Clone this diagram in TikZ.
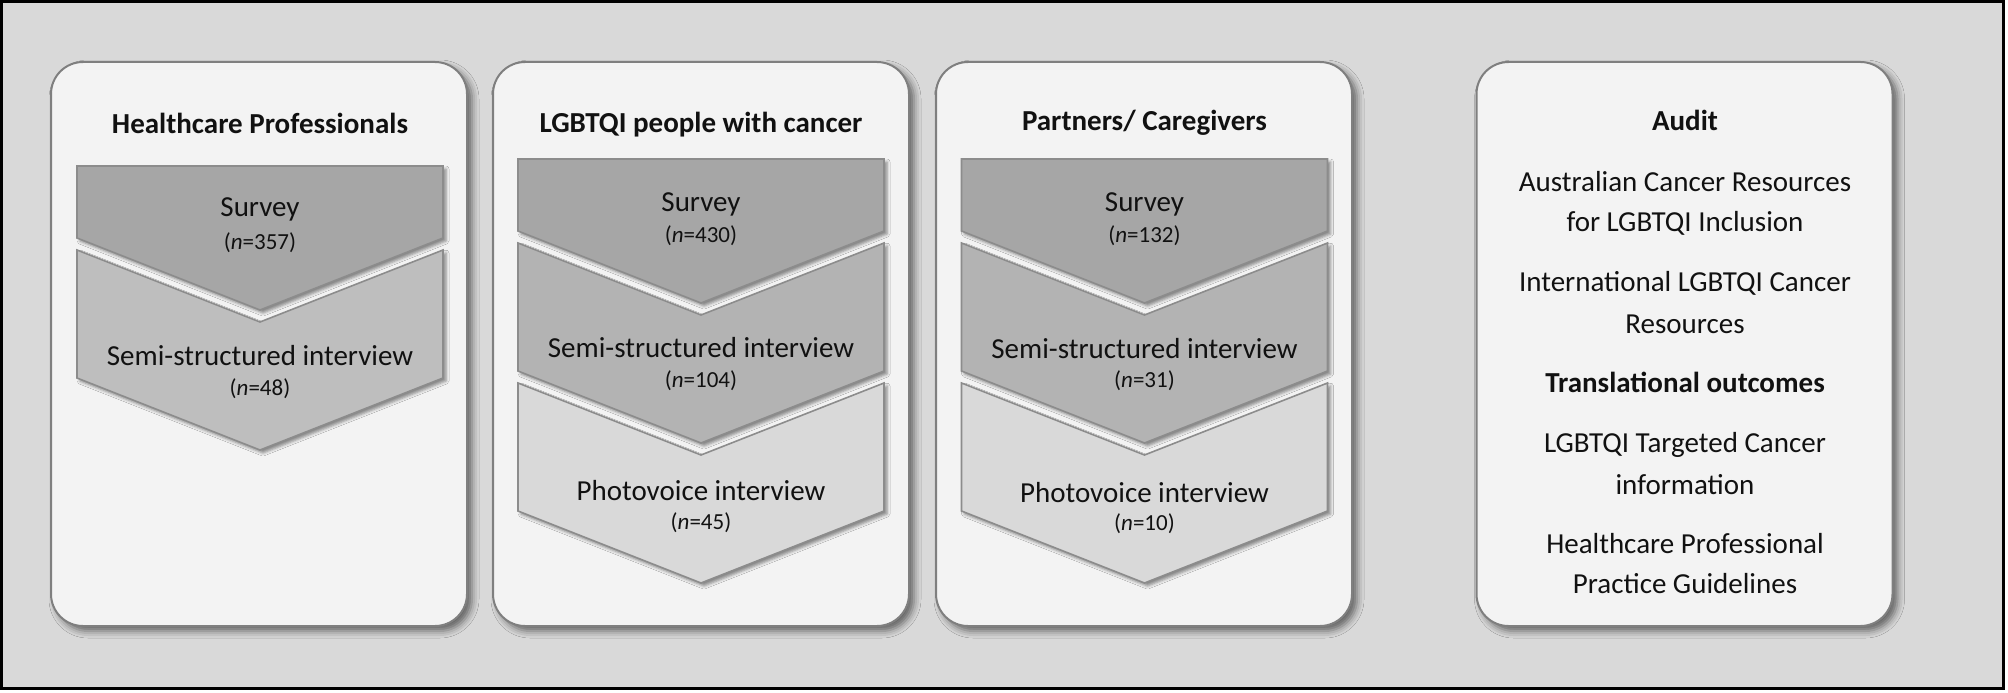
\documentclass[tikz,border=0pt]{standalone}
\usepackage{fontspec}
\setmainfont{Carlito}
\usetikzlibrary{shadows.blur}
\definecolor{bgout}{HTML}{D9D9D9}
\definecolor{boxfill}{HTML}{F3F3F3}
\definecolor{boxline}{HTML}{7F7F7F}
\definecolor{chevline}{HTML}{8C8C8C}
\definecolor{cA}{HTML}{A6A6A6}
\definecolor{cB}{HTML}{B3B3B3}
\definecolor{cBl}{HTML}{BEBEBE}
\definecolor{cC}{HTML}{D9D9D9}
\definecolor{txt}{HTML}{111111}
\newcommand\chevflat[3]{\draw[chev, fill=#3] (#1-183,#2) -- (#1+183,#2) -- (#1+183,#2+72) -- (#1,#2+144) -- (#1-183,#2+72) -- cycle;}
\newcommand\chevnotch[3]{\draw[chev, fill=#3] (#1-183,#2) -- (#1,#2+72) -- (#1+183,#2) -- (#1+183,#2+128) -- (#1,#2+200) -- (#1-183,#2+128) -- cycle;}
\begin{document}
\begin{tikzpicture}[x=1pt,y=-1pt,
  panel/.style={draw=boxline, line width=2pt, fill=boxfill, rounded corners=32pt,
    minimum width=416pt, minimum height=564pt, inner sep=0pt,
    blur shadow={shadow xshift=5pt, shadow yshift=-5pt, shadow blur radius=7pt, shadow opacity=55}},
  chev/.style={draw=chevline, line width=1.6pt, line join=miter,
    blur shadow={shadow xshift=3pt, shadow yshift=-3pt, shadow blur radius=3pt, shadow opacity=45}},
  lab/.style={anchor=base, inner sep=0pt, font=\fontsize{29}{35}\selectfont, text=txt},
  nlab/.style={anchor=base, inner sep=0pt, font=\fontsize{23}{28}\selectfont, text=txt},
  ttl/.style={anchor=base, inner sep=0pt, font=\fontsize{29}{35}\selectfont\bfseries, text=txt}
]
\useasboundingbox (0,0) rectangle (2008,693);
\fill[white] (0,0) rectangle (2008,693);
\draw[line width=3pt, fill=bgout] (1.5,1.5) rectangle (2003.5,688);

% panels
\node[panel] (b1) at (259,344) {};
\node[panel] (b2) at (701,344) {};
\node[panel] (b3) at (1144,344) {};
\node[panel] (b4) at (1684.5,344) {};

% box 1 chevrons
\chevflat{260}{166}{cA}
\chevnotch{260}{250}{cBl}
% box 2 chevrons
\chevflat{701}{159}{cA}
\chevnotch{701}{243}{cB}
\chevnotch{701}{383}{cC}
% box 3 chevrons
\chevflat{1144.5}{159}{cA}
\chevnotch{1144.5}{243}{cB}
\chevnotch{1144.5}{383}{cC}

% box 1 texts
\node[ttl] (t1) at (260,133) {Healthcare Professionals};
\node[lab] (s1) at (260,216) {Survey};
\node[nlab] (s1n) at (260,249) {(\textit{n}=357)};
\node[lab] (i1) at (260,365) {Semi-structured interview};
\node[nlab] (i1n) at (260,395) {(\textit{n}=48)};

% box 2 texts
\node[ttl] (t2) at (701,132) {LGBTQI people with cancer};
\node[lab] (s2) at (701,211) {Survey};
\node[nlab] (s2n) at (701,242) {(\textit{n}=430)};
\node[lab] (i2) at (701,357) {Semi-structured interview};
\node[nlab] (i2n) at (701,387) {(\textit{n}=104)};
\node[lab] (p2) at (701,500) {Photovoice interview};
\node[nlab] (p2n) at (701,529) {(\textit{n}=45)};

% box 3 texts
\node[ttl] (t3) at (1144.5,130) {Partners/ Caregivers};
\node[lab] (s3) at (1144.5,211) {Survey};
\node[nlab] (s3n) at (1144.5,242) {(\textit{n}=132)};
\node[lab] (i3) at (1144.5,358) {Semi-structured interview};
\node[nlab] (i3n) at (1144.5,387) {(\textit{n}=31)};
\node[lab] (p3) at (1144.5,502) {Photovoice interview};
\node[nlab] (p3n) at (1144.5,530) {(\textit{n}=10)};

% box 4 texts
\node[ttl] (a0) at (1685,130) {Audit};
\node[lab] (a1) at (1685,191) {Australian Cancer Resources};
\node[lab] (a2) at (1685,231) {for LGBTQI Inclusion};
\node[lab] (a3) at (1685,291) {International LGBTQI Cancer};
\node[lab] (a4) at (1685,333) {Resources};
\node[ttl] (o0) at (1685,392) {Translational outcomes};
\node[lab] (o1) at (1685,452) {LGBTQI Targeted Cancer};
\node[lab] (o2) at (1685,494) {information};
\node[lab] (o3) at (1685,553) {Healthcare Professional};
\node[lab] (o4) at (1685,593) {Practice Guidelines};
\end{tikzpicture}
\end{document}
